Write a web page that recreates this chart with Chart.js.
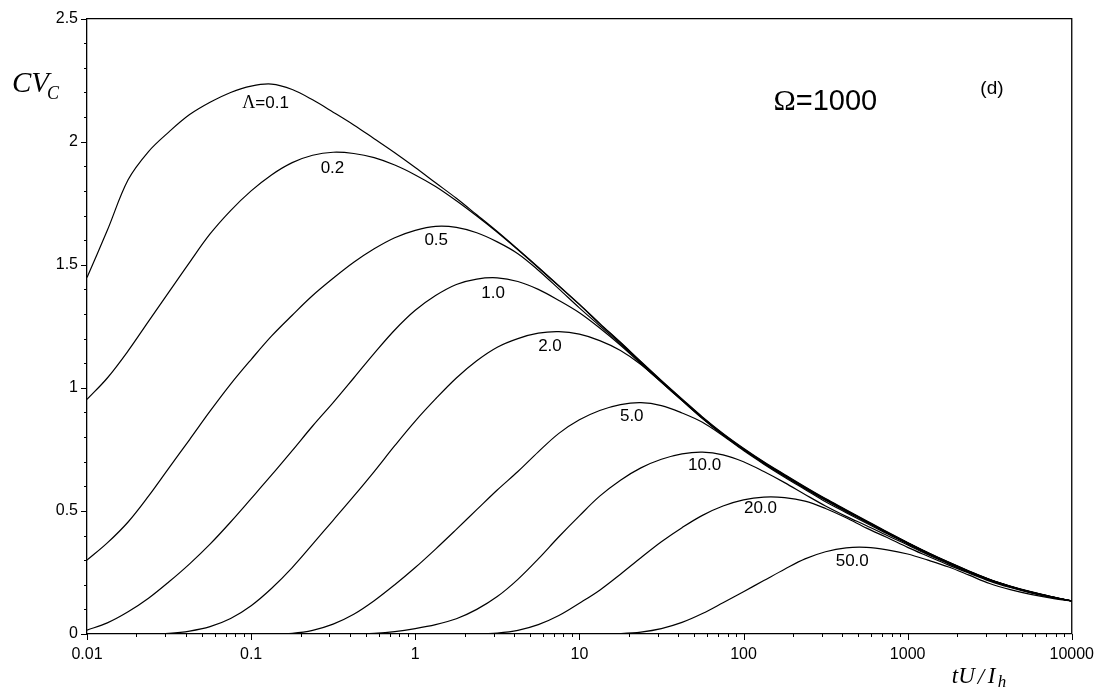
<!DOCTYPE html>
<html>
<head>
<meta charset="utf-8">
<script src="https://cdn.jsdelivr.net/npm/chart.js@4.4.1/dist/chart.umd.min.js"></script>
<style>
  html, body { margin: 0; padding: 0; background: #fff; }
</style>
</head>
<body>
<canvas id="chart" width="1105" height="691"></canvas>
<script>
// axis ticks
var xMajor = [0.01, 0.1, 1, 10, 100, 1000, 10000];
var xTickLabels = ["0.01", "0.1", "1", "10", "100", "1000", "10000"];
var yMajor = [0, 0.5, 1, 1.5, 2, 2.5];
var yTickLabels = ["0", "0.5", "1", "1.5", "2", "2.5"];

var tU = [0.01, 0.0133, 0.0178, 0.0237, 0.0316, 0.0422, 0.0562, 0.075,
          0.1, 0.133, 0.178, 0.237, 0.316, 0.422, 0.562, 0.75,
          1, 1.33, 1.78, 2.37, 3.16, 4.22, 5.62, 7.5,
          10, 13.3, 17.8, 23.7, 31.6, 42.2, 56.2, 75,
          100, 133, 178, 237, 316, 422, 562, 750,
          1000, 1330, 1780, 2370, 3160, 4220, 5620, 7500, 10000];

// CVc for each Lambda
var cv01 = [1.448, 1.64, 1.845, 1.96, 2.04, 2.11, 2.16, 2.2,
            2.226, 2.234, 2.212, 2.17, 2.12, 2.068, 2.012, 1.955,
            1.895, 1.833, 1.77, 1.703, 1.635, 1.563, 1.49, 1.415,
            1.34, 1.262, 1.185, 1.107, 1.03, 0.955, 0.882, 0.815,
            0.755, 0.70, 0.648, 0.598, 0.55, 0.505, 0.46, 0.415,
            0.372, 0.331, 0.292, 0.256, 0.222, 0.195, 0.172, 0.152, 0.134];
var cv02 = [0.953, 1.04, 1.15, 1.27, 1.39, 1.51, 1.625, 1.72,
            1.8, 1.865, 1.915, 1.945, 1.957, 1.952, 1.935, 1.905,
            1.865, 1.818, 1.76, 1.698, 1.632, 1.561, 1.488, 1.413,
            1.338, 1.26, 1.183, 1.105, 1.028, 0.953, 0.88, 0.813,
            0.753, 0.698, 0.646, 0.596, 0.548, 0.503, 0.458, 0.413,
            0.371, 0.33, 0.291, 0.255, 0.221, 0.194, 0.171, 0.152, 0.134];
var cv05 = [0.30, 0.37, 0.455, 0.56, 0.675, 0.79, 0.905, 1.015,
            1.115, 1.21, 1.295, 1.375, 1.445, 1.51, 1.565, 1.61,
            1.64, 1.656, 1.652, 1.63, 1.593, 1.545, 1.478, 1.402,
            1.325, 1.252, 1.178, 1.102, 1.026, 0.951, 0.878, 0.811,
            0.751, 0.696, 0.644, 0.594, 0.546, 0.501, 0.457, 0.412,
            0.37, 0.329, 0.29, 0.254, 0.221, 0.194, 0.171, 0.151, 0.134];
var cv1 = [0.016, 0.045, 0.09, 0.145, 0.212, 0.285, 0.365, 0.455,
           0.55, 0.645, 0.745, 0.845, 0.94, 1.04, 1.14, 1.235,
           1.315, 1.375, 1.42, 1.442, 1.447, 1.432, 1.40, 1.355,
           1.305, 1.243, 1.173, 1.098, 1.023, 0.949, 0.876, 0.809,
           0.749, 0.694, 0.642, 0.592, 0.544, 0.499, 0.455, 0.411,
           0.369, 0.328, 0.289, 0.253, 0.22, 0.193, 0.17, 0.151, 0.134];
var cv2 = [0, 0, 0, 0, 0.003, 0.012, 0.03, 0.063,
           0.115, 0.185, 0.27, 0.365, 0.462, 0.56, 0.66, 0.765,
           0.865, 0.955, 1.04, 1.11, 1.165, 1.2, 1.222, 1.228,
           1.218, 1.192, 1.152, 1.095, 1.022, 0.948, 0.875, 0.808,
           0.748, 0.693, 0.641, 0.591, 0.543, 0.498, 0.454, 0.41,
           0.368, 0.327, 0.288, 0.252, 0.22, 0.193, 0.17, 0.151, 0.134];
var cv5 = [0, 0, 0, 0, 0, 0, 0, 0,
           0, 0, 0.003, 0.015, 0.04, 0.08, 0.135, 0.2,
           0.27, 0.345, 0.425, 0.505, 0.585, 0.66, 0.74, 0.815,
           0.87, 0.908, 0.932, 0.94, 0.928, 0.898, 0.86, 0.805,
           0.745, 0.69, 0.637, 0.587, 0.537, 0.493, 0.45, 0.407,
           0.366, 0.325, 0.287, 0.251, 0.219, 0.192, 0.169, 0.15, 0.134];
var cv10 = [0, 0, 0, 0, 0, 0, 0, 0,
            0, 0, 0, 0, 0, 0, 0.003, 0.01,
            0.022, 0.038, 0.062, 0.1, 0.152, 0.222, 0.305, 0.395,
            0.48, 0.56, 0.625, 0.675, 0.71, 0.732, 0.739, 0.728,
            0.70, 0.66, 0.615, 0.567, 0.52, 0.478, 0.44, 0.40,
            0.362, 0.322, 0.285, 0.25, 0.218, 0.191, 0.169, 0.15, 0.134];
var cv20 = [0, 0, 0, 0, 0, 0, 0, 0,
            0, 0, 0, 0, 0, 0, 0, 0,
            0, 0, 0, 0, 0.004, 0.015, 0.038, 0.075,
            0.125, 0.178, 0.243, 0.31, 0.375, 0.432, 0.482, 0.52,
            0.545, 0.556, 0.554, 0.54, 0.51, 0.472, 0.43, 0.392,
            0.352, 0.316, 0.28, 0.247, 0.215, 0.189, 0.167, 0.149, 0.134];
var cv50 = [0, 0, 0, 0, 0, 0, 0, 0,
            0, 0, 0, 0, 0, 0, 0, 0,
            0, 0, 0, 0, 0, 0, 0, 0,
            0, 0, 0.002, 0.008, 0.022, 0.047, 0.083, 0.127,
            0.172, 0.217, 0.263, 0.305, 0.334, 0.35, 0.352, 0.342,
            0.325, 0.3, 0.272, 0.239, 0.205, 0.18, 0.161, 0.146, 0.134];

// curve labels, with the point (tU/Ih , CVc) where each one is centred
var curveLabels = ["0.1", "0.2", "0.5", "1.0", "2.0", "5.0", "10.0", "20.0", "50.0"];
var labelT = [0.1224, 0.313, 1.342, 2.98, 6.62, 20.85, 57.9, 126.9, 459.7];
var labelCV = [2.16, 1.896, 1.605, 1.39, 1.175, 0.891, 0.691, 0.515, 0.30];

var allCV = [cv01, cv02, cv05, cv1, cv2, cv5, cv10, cv20, cv50];

var sans = "'Liberation Sans', Arial, sans-serif";
var serif = "'Liberation Serif', 'Times New Roman', serif";

// build the datasets
var datasets = [];
for (var i = 0; i < allCV.length; i++) {
  var pts = [];
  for (var j = 0; j < tU.length; j++) {
    pts.push({x: tU[j], y: allCV[i][j]});
  }
  datasets.push({
    label: curveLabels[i],
    data: pts,
    borderColor: "#000",
    borderWidth: 1.2,
    pointRadius: 0,
    fill: false,
    tension: 0.35
  });
}

// write a string made of pieces in different fonts, left aligned or centred
var drawParts = function(ctx, parts, x, y, centred) {
  var w = 0;
  parts.forEach(function(p) { ctx.font = p[1]; w += ctx.measureText(p[0]).width; });
  var cx = centred ? x - w / 2 : x;
  parts.forEach(function(p) {
    ctx.font = p[1];
    ctx.fillText(p[0], cx, y);
    cx += ctx.measureText(p[0]).width;
  });
};

// box top/right + the minor and major tick marks
var frameTicks = {
  id: "frameTicks",
  afterDraw: function(chart) {
    var ctx = chart.ctx, a = chart.chartArea;
    var xs = chart.scales.x, ys = chart.scales.y;
    ctx.save();
    ctx.strokeStyle = "#000";
    ctx.lineWidth = 1.3;
    ctx.beginPath();
    ctx.moveTo(a.left, a.top);
    ctx.lineTo(a.right, a.top);
    ctx.lineTo(a.right, a.bottom);
    ctx.stroke();

    ctx.lineWidth = 1;
    ctx.beginPath();
    for (var d = -2; d <= 4; d++) {
      for (var m = 1; m < 10; m++) {
        var v = m * Math.pow(10, d);
        if (v > 10000) break;
        var px = Math.round(xs.getPixelForValue(v)) + 0.5;
        var len = m === 1 ? 6 : 3;
        ctx.moveTo(px, a.bottom);
        ctx.lineTo(px, a.bottom + len);
      }
    }
    for (var k = 0; k <= 25; k++) {
      var py = Math.round(ys.getPixelForValue(k / 10)) + 0.5;
      var ln = k % 5 === 0 ? 6 : 3;
      ctx.moveTo(a.left, py);
      ctx.lineTo(a.left - ln, py);
    }
    ctx.stroke();
    ctx.restore();
  }
};

// curve labels and the other texts
var texts = {
  id: "texts",
  afterDraw: function(chart) {
    var ctx = chart.ctx, a = chart.chartArea;
    var xs = chart.scales.x, ys = chart.scales.y;
    ctx.save();
    ctx.fillStyle = "#000";
    ctx.textBaseline = "alphabetic";
    ctx.textAlign = "left";
    for (var i = 0; i < curveLabels.length; i++) {
      var px = xs.getPixelForValue(labelT[i]);
      var py = ys.getPixelForValue(labelCV[i]) + 6;
      var parts = [[curveLabels[i], "17px " + sans]];
      if (i === 0) parts.unshift(["\u039b", "18px " + serif], ["=", "17px " + sans]);
      drawParts(ctx, parts, px, py, true);
    }
    // Omega and panel letter
    drawParts(ctx, [["\u03a9", "30px " + serif], ["=1000", "29px " + sans]],
      xs.getPixelForValue(315), ys.getPixelForValue(2.168) + 10, true);
    drawParts(ctx, [["(d)", "19px " + sans]], xs.getPixelForValue(3264), ys.getPixelForValue(2.22) + 6, true);

    // axis titles
    drawParts(ctx, [["CV", "italic 29px " + serif]], a.left - 75, a.top + 73, false);
    drawParts(ctx, [["C", "italic 18px " + serif]], a.left - 40, a.top + 80, false);
    drawParts(ctx, [["tU", "italic 23px " + serif]], a.right - 120, a.bottom + 49, false);
    drawParts(ctx, [["/", "italic 23px " + serif]], a.right - 94, a.bottom + 50, false);
    drawParts(ctx, [["I", "italic 23px " + serif]], a.right - 84, a.bottom + 49, false);
    drawParts(ctx, [["h", "italic 17px " + serif]], a.right - 74, a.bottom + 53, false);
    ctx.restore();
  }
};

var chart = new Chart(document.getElementById("chart").getContext("2d"), {
  type: "line",
  data: {datasets: datasets},
  options: {
    responsive: false,
    animation: false,
    devicePixelRatio: 1,
    layout: {padding: {top: 17, right: 31, left: 0, bottom: 0}},
    plugins: {legend: {display: false}, tooltip: {enabled: false}},
    scales: {
      x: {
        type: "logarithmic",
        min: 0.01,
        max: 10000,
        grid: {display: false, drawTicks: false},
        border: {display: true, color: "#000", width: 1.3},
        afterBuildTicks: function(scale) {
          scale.ticks = xMajor.map(function(v) { return {value: v}; });
        },
        afterFit: function(scale) { scale.height = 57; },
        ticks: {
          autoSkip: false,
          maxRotation: 0,
          padding: 11,
          color: "#000",
          font: {family: sans, size: 16},
          callback: function(value, index) { return xTickLabels[index]; }
        }
      },
      y: {
        type: "linear",
        min: 0,
        max: 2.5,
        grid: {display: false, drawTicks: false},
        border: {display: true, color: "#000", width: 1.3},
        afterBuildTicks: function(scale) {
          scale.ticks = yMajor.map(function(v) { return {value: v}; });
        },
        afterFit: function(scale) { scale.width = 87; },
        ticks: {
          padding: 9,
          color: "#000",
          font: {family: sans, size: 16},
          callback: function(value, index) { return yTickLabels[index]; }
        }
      }
    }
  },
  plugins: [frameTicks, texts]
});
</script>
</body>
</html>
